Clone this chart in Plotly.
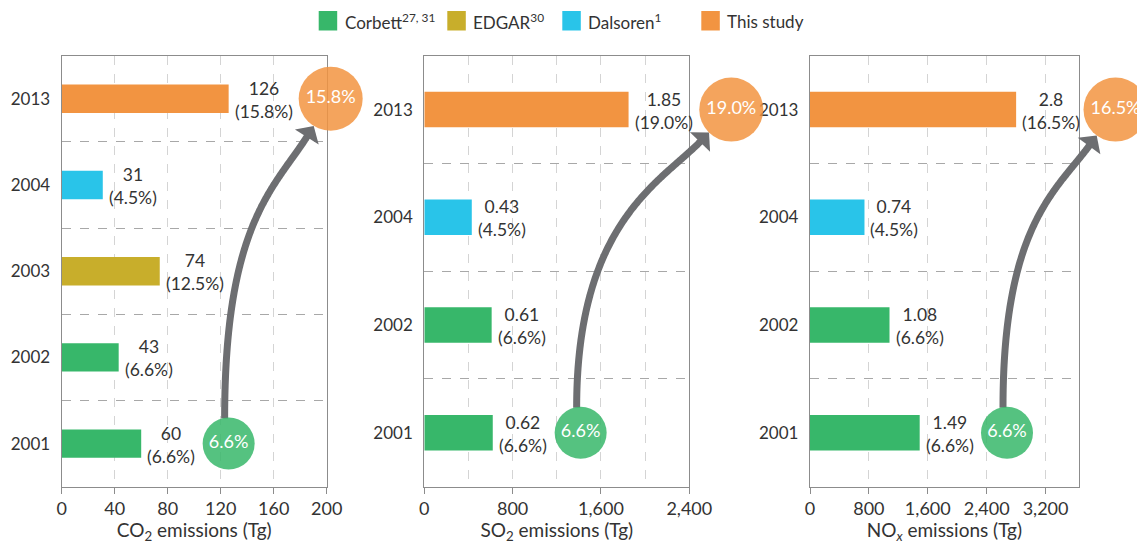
import math
import plotly.graph_objects as go

W, H = 1137, 544
FONT = "Lato"
TEXT = "#333333"

# ---- data -------------------------------------------------------------
co2_years = ["2001", "2002", "2003", "2004", "2013"]
co2_values = [60, 43, 74, 31, 126]
co2_shares = ["6.6%", "6.6%", "12.5%", "4.5%", "15.8%"]
co2_sources = ["Corbett", "Corbett", "EDGAR", "Dalsoren", "This study"]

so2_years = ["2001", "2002", "2004", "2013"]
so2_values = [0.62, 0.61, 0.43, 1.85]
so2_shares = ["6.6%", "6.6%", "4.5%", "19.0%"]
so2_sources = ["Corbett", "Corbett", "Dalsoren", "This study"]

nox_years = ["2001", "2002", "2004", "2013"]
nox_values = [1.49, 1.08, 0.74, 2.8]
nox_shares = ["6.6%", "6.6%", "4.5%", "16.5%"]
nox_sources = ["Corbett", "Corbett", "Dalsoren", "This study"]

source_names = ["Corbett", "EDGAR", "Dalsoren", "This study"]
source_labels = ["Corbett<sup>27, 31</sup>", "EDGAR<sup>30</sup>",
                 "Dalsoren<sup>1</sup>", "This study"]
source_colors = ["#37B76A", "#C8AE2B", "#29C4E9", "#F29441"]

axis_titles = ["CO<sub>2</sub> emissions (Tg)",
               "SO<sub>2</sub> emissions (Tg)",
               "NO<sub><i>x</i></sub> emissions (Tg)"]
axis_max = [200, 2400, 3650]
axis_dtick = [40, 800, 800]
axis_minor = [None, 400, None]
axis_scale = [1, 1000, 1000]          # SO2 / NOx axes are drawn in thousandths

# bubble positions (axis units) for the first and latest estimate
start_circle_x = [126, 1416, 2676]
end_circle_x = [203, 2780, 4150]
arrow_angle = [58, 46, 54]             # approach angle of the arrow (deg)

panels = [
    (co2_years, co2_values, co2_shares, co2_sources),
    (so2_years, so2_values, so2_shares, so2_sources),
    (nox_years, nox_values, nox_shares, nox_sources),
]

# ---- geometry (pixels) --------------------------------------------------
panel_px = [(61.7, 326.7), (424.3, 689.3), (810.0, 1078.7)]
plot_top, plot_bottom = 55.7, 486.7
LABEL_SIZE = 17.5
LABEL_GAP = 5


def to_px_x(i, v):
    x0, x1 = panel_px[i]
    return x0 + v / axis_max[i] * (x1 - x0)


def to_px_y(idx, n):
    return plot_bottom - (idx + 0.5) / n * (plot_bottom - plot_top)


def rgba(hex_color, alpha):
    h = hex_color.lstrip("#")
    r, g, b = int(h[0:2], 16), int(h[2:4], 16), int(h[4:6], 16)
    return f"rgba({r},{g},{b},{alpha})"


color_of = dict(zip(source_names, source_colors))
fig = go.Figure()
layout = dict(
    width=W, height=H, margin=dict(l=0, r=0, t=0, b=0),
    paper_bgcolor="white", plot_bgcolor="rgba(0,0,0,0)",
    font=dict(family=FONT, size=16, color=TEXT),
    showlegend=False, template="none", barmode="overlay",
)
annotations = []

for i, (years, values, shares, sources) in enumerate(panels):
    sfx = "" if i == 0 else str(i + 1)
    xs = [v * axis_scale[i] for v in values]
    fig.add_trace(go.Bar(
        orientation="h", y=years, x=xs, width=0.33,
        marker=dict(color=[color_of[s] for s in sources], line=dict(width=0)),
        xaxis="x" + sfx, yaxis="y" + sfx, hoverinfo="skip",
    ))
    # two-line value label to the right of each bar (y given as category index)
    for idx, (v, xv, s) in enumerate(zip(values, xs, shares)):
        annotations.append(dict(
            xref="x" + sfx, yref="y" + sfx, x=xv, y=idx,
            text=f"{v:g}<br>({s})", align="center",
            showarrow=False, xanchor="left", yanchor="middle",
            xshift=LABEL_GAP, yshift=-1, borderpad=0,
            font=dict(family=FONT, size=LABEL_SIZE, color=TEXT)))

    x0, x1 = panel_px[i]
    xa = dict(
        domain=[x0 / W, x1 / W], anchor="y" + sfx, range=[0, axis_max[i]],
        dtick=axis_dtick[i], tick0=0, tickformat=",d",
        showgrid=True, gridcolor="#d4d4d4", griddash="dash", gridwidth=1,
        zeroline=False, showline=True, mirror=True, linecolor="#8c8c8c",
        linewidth=1.3, ticks="outside", ticklen=6, tickcolor="#8c8c8c",
        tickfont=dict(size=18, color=TEXT), automargin=False,
        title=dict(text=axis_titles[i], font=dict(size=19, color=TEXT), standoff=8),
        fixedrange=True,
    )
    if axis_minor[i]:
        xa["minor"] = dict(dtick=axis_minor[i], tick0=0, showgrid=True,
                           gridcolor="#d4d4d4", griddash="dash", ticks="")
    ya = dict(
        domain=[1 - plot_bottom / H, 1 - plot_top / H], anchor="x" + sfx,
        type="category", categoryorder="array", categoryarray=years,
        range=[-0.5, len(years) - 0.5], tickson="boundaries",
        showgrid=True, gridcolor="#a8a8a8", griddash="dash", gridwidth=1,
        zeroline=False, showline=True, mirror=True, linecolor="#8c8c8c",
        linewidth=1.3, ticks="", ticklabelstandoff=7,
        tickfont=dict(size=17, color=TEXT), automargin=False, fixedrange=True,
    )
    layout["xaxis" + sfx] = xa
    layout["yaxis" + sfx] = ya

# full-figure pixel overlay for the bubbles, arrows and key
layout["xaxis4"] = dict(domain=[0, 1], range=[0, W], visible=False,
                        anchor="y4", fixedrange=True)
layout["yaxis4"] = dict(domain=[0, 1], range=[H, 0], visible=False,
                        anchor="x4", fixedrange=True)

ARROW = "#6D6E71"
R_END, R_START = 32, 26
circles = []
for i, (years, values, shares, sources) in enumerate(panels):
    n = len(years)
    sx, sy = to_px_x(i, start_circle_x[i]), to_px_y(0, n)
    ex, ey = to_px_x(i, end_circle_x[i]), to_px_y(n - 1, n)
    circles.append((sx, sy, R_START, shares[0], color_of[sources[0]]))
    circles.append((ex, ey, R_END, shares[-1], color_of[sources[-1]]))

    a = math.radians(arrow_angle[i])
    d = (math.cos(a), -math.sin(a))            # travel direction (screen)
    tip = (ex - R_END * d[0], ey - R_END * d[1])
    head_len, head_half = 13, 14
    base = (tip[0] - head_len * d[0], tip[1] - head_len * d[1])
    p0 = (sx - 4, sy - R_START + 1)
    dy = p0[1] - base[1]
    p1 = (p0[0], p0[1] - 0.7 * dy)
    p2 = (base[0] - 0.21 * dy * d[0], base[1] - 0.21 * dy * d[1])
    p3 = (base[0] + 2 * d[0], base[1] + 2 * d[1])
    cx, cy = [], []
    for k in range(121):
        t = k / 120
        b0, b1, b2, b3 = (1 - t) ** 3, 3 * t * (1 - t) ** 2, 3 * t * t * (1 - t), t ** 3
        cx.append(b0 * p0[0] + b1 * p1[0] + b2 * p2[0] + b3 * p3[0])
        cy.append(b0 * p0[1] + b1 * p1[1] + b2 * p2[1] + b3 * p3[1])
    fig.add_trace(go.Scatter(x=cx, y=cy, mode="lines",
                             line=dict(color=ARROW, width=7, shape="spline",
                                       simplify=False),
                             xaxis="x4", yaxis="y4", hoverinfo="skip"))
    perp = (-d[1], d[0])
    hx = [tip[0], base[0] + head_half * perp[0], base[0] - head_half * perp[0], tip[0]]
    hy = [tip[1], base[1] + head_half * perp[1], base[1] - head_half * perp[1], tip[1]]
    fig.add_trace(go.Scatter(x=hx, y=hy, mode="lines", fill="toself",
                             fillcolor=ARROW, line=dict(width=0, color=ARROW),
                             xaxis="x4", yaxis="y4", hoverinfo="skip"))

for (x, y, r, label, col) in circles:
    fig.add_trace(go.Scatter(
        x=[x], y=[y], mode="markers+text",
        marker=dict(size=2 * r, color=rgba(col, 0.85), line=dict(width=0)),
        text=[label], textposition="middle center",
        textfont=dict(family=FONT, size=18, color="white"),
        xaxis="x4", yaxis="y4", hoverinfo="skip", cliponaxis=False,
    ))

# key along the top
key_x = [318.7, 447.3, 562.3, 701.3]
shapes = []
for kx, lab, col in zip(key_x, source_labels, source_colors):
    shapes.append(dict(type="rect", xref="x4", yref="y4", x0=kx, x1=kx + 18.5,
                       y0=11, y1=30.5, fillcolor=col, line=dict(width=0)))
    annotations.append(dict(xref="x4", yref="y4", x=kx + 24, y=21, text=lab,
                            showarrow=False, xanchor="left", yanchor="middle",
                            font=dict(family=FONT, size=17, color=TEXT)))
layout["shapes"] = shapes
layout["annotations"] = annotations

fig.update_layout(**layout)
fig.write_html("out.html")
